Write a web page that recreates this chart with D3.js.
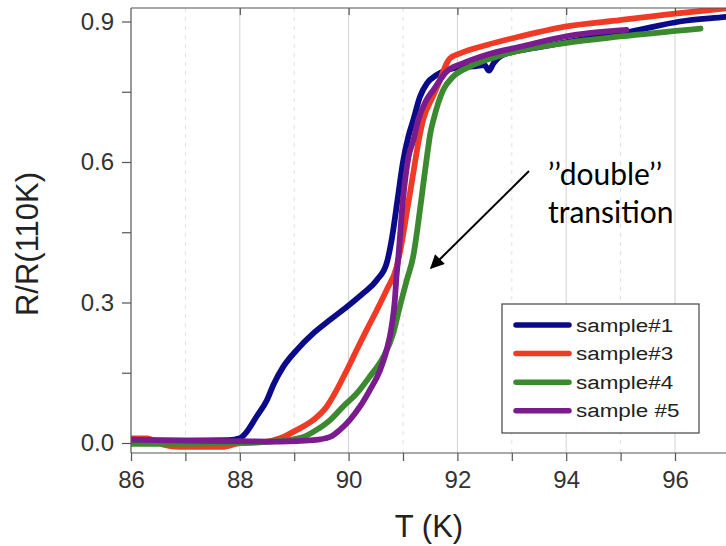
<!DOCTYPE html>
<html>
<head>
<meta charset="utf-8">
<script src="https://cdn.jsdelivr.net/npm/d3@7"></script>
<style>
html,body{margin:0;padding:0;background:#fff;}
svg{display:block;}
</style>
</head>
<body>
<svg id="chart" width="726" height="546"></svg>
<script>
// ---- data ----
const seriesNames = ["sample#1", "sample#3", "sample#4", "sample #5"];
const seriesColors = ["#0b0b8a", "#ef3b26", "#3b8a2f", "#7a1b8e"];

const s1T = [86, 87, 87.8, 88.0, 88.1, 88.3, 88.5, 88.62, 88.8, 89.05, 89.35, 89.66, 89.97, 90.27, 90.52, 90.7, 90.8, 90.9, 91.0, 91.1, 91.19, 91.31, 91.44, 91.62, 91.92, 92.29, 92.5, 92.58, 92.66, 92.84, 93.5, 94.3, 95.17, 96.09, 96.94, 97.1];
const s1V = [0.005, 0.005, 0.006, 0.01, 0.02, 0.055, 0.092, 0.125, 0.163, 0.199, 0.234, 0.263, 0.291, 0.32, 0.348, 0.384, 0.44, 0.52, 0.6, 0.655, 0.69, 0.739, 0.768, 0.786, 0.8, 0.804, 0.807, 0.795, 0.81, 0.829, 0.845, 0.862, 0.878, 0.9, 0.91, 0.912];

const s3T = [86, 86.3, 86.5, 86.9, 87.7, 88.0, 88.5, 88.74, 89.05, 89.35, 89.6, 89.78, 89.97, 90.15, 90.33, 90.52, 90.7, 90.88, 90.98, 91.08, 91.18, 91.28, 91.37, 91.55, 91.68, 91.8, 91.86, 92.05, 92.54, 93.15, 93.98, 94.99, 96.0, 96.94, 97.1];
const s3V = [0.01, 0.01, 0.0, -0.008, -0.008, 0.0, 0.003, 0.01, 0.028, 0.049, 0.078, 0.113, 0.156, 0.199, 0.241, 0.284, 0.327, 0.375, 0.43, 0.5, 0.57, 0.64, 0.69, 0.74, 0.775, 0.81, 0.821, 0.832, 0.85, 0.868, 0.889, 0.903, 0.917, 0.928, 0.93];

const s4T = [86, 88, 88.86, 89.17, 89.41, 89.66, 89.9, 90.15, 90.39, 90.64, 90.82, 90.94, 91.07, 91.19, 91.28, 91.37, 91.45, 91.5, 91.56, 91.74, 91.92, 92.23, 92.84, 93.98, 94.99, 96.47];
const s4V = [-0.002, 0.0, 0.006, 0.013, 0.028, 0.049, 0.078, 0.106, 0.142, 0.184, 0.234, 0.291, 0.348, 0.40, 0.47, 0.55, 0.62, 0.66, 0.69, 0.754, 0.782, 0.804, 0.829, 0.854, 0.868, 0.885];

const s5T = [86, 87, 88, 88.74, 89.35, 89.66, 89.84, 90.02, 90.21, 90.39, 90.58, 90.7, 90.79, 90.85, 90.88, 90.91, 91.0, 91.1, 91.2, 91.28, 91.42, 91.56, 91.8, 92.11, 92.54, 93.15, 93.98, 95.11];
const s5V = [0.007, 0.005, 0.004, 0.003, 0.006, 0.013, 0.028, 0.049, 0.078, 0.113, 0.156, 0.199, 0.248, 0.305, 0.355, 0.391, 0.52, 0.61, 0.65, 0.69, 0.73, 0.754, 0.793, 0.811, 0.829, 0.846, 0.868, 0.882];

const xMajorTicks = [86, 88, 90, 92, 94, 96];
const xMinorTicks = [87, 89, 91, 93, 95, 97];
const yMajorTicks = [0.0, 0.3, 0.6, 0.9];
const yMinorTicks = [0.15, 0.45, 0.75];
const xTitle = "T (K)";
const yTitle = "R/R(110K)";
const noteLines = ["\u2019\u2019double\u2019\u2019", "transition"];

// ---- layout ----
const svg = d3.select("#chart");
const pLeft = 131, pTop = 8, pBottom = 453, pRight = 760;
const x = d3.scaleLinear().domain([86, 96]).range([131, 675]);
const y = d3.scaleLinear().domain([0, 0.9]).range([443, 21.5]);
const axisFont = "Liberation Sans, Arial, sans-serif";

const defs = svg.append("defs");
defs.append("clipPath").attr("id", "plotclip")
  .append("rect").attr("x", pLeft).attr("y", pTop).attr("width", pRight - pLeft).attr("height", pBottom - pTop);

// gridlines
const grid = svg.append("g");
grid.selectAll("line.maj").data(xMajorTicks.filter(d => d > 86)).join("line")
  .attr("x1", d => x(d)).attr("x2", d => x(d)).attr("y1", pTop).attr("y2", pBottom)
  .attr("stroke", "#d2d2d2").attr("stroke-width", 1);
grid.selectAll("line.min").data(xMinorTicks).join("line")
  .attr("x1", d => x(d)).attr("x2", d => x(d)).attr("y1", pTop).attr("y2", pBottom)
  .attr("stroke", "#e0e0e0").attr("stroke-width", 1).attr("stroke-dasharray", "4,5");

// series
const series = [
  {T: s1T, V: s1V}, {T: s3T, V: s3V}, {T: s4T, V: s4V}, {T: s5T, V: s5V}
];
const line = d3.line().x(d => x(d[0])).y(d => y(d[1])).curve(d3.curveMonotoneX);
const plot = svg.append("g").attr("clip-path", "url(#plotclip)");
series.forEach((s, i) => {
  plot.append("path")
    .datum(s.T.map((t, j) => [t, s.V[j]]))
    .attr("d", line)
    .attr("fill", "none")
    .attr("stroke", seriesColors[i])
    .attr("stroke-width", 5.8)
    .attr("stroke-linejoin", "round")
    .attr("stroke-linecap", "round");
});

// frame
svg.append("line").attr("x1", pLeft).attr("x2", pRight).attr("y1", pTop).attr("y2", pTop).attr("stroke", "#555").attr("stroke-width", 1.2);
svg.append("line").attr("x1", pLeft).attr("x2", pLeft).attr("y1", pTop).attr("y2", pBottom).attr("stroke", "#555").attr("stroke-width", 1.2);

// axes
const xAxis = d3.axisBottom(x).tickValues(xMajorTicks.concat(xMinorTicks).sort((a,b)=>a-b))
  .tickSize(8).tickPadding(10)
  .tickFormat(d => xMajorTicks.includes(d) ? d3.format("d")(d) : "");
const gx = svg.append("g").attr("transform", `translate(0,${pBottom})`).call(xAxis);
gx.select(".domain").attr("d", `M${pLeft},0H${pRight}`);
const xTop = d3.axisBottom(x).tickValues(xMajorTicks.filter(d => d > 86)).tickSize(7).tickFormat("");
const gxt = svg.append("g").attr("transform", `translate(0,${pTop})`).call(xTop);
gxt.select(".domain").remove();

const yAxis = d3.axisLeft(y).tickValues(yMajorTicks.concat(yMinorTicks).sort((a,b)=>a-b))
  .tickSize(9).tickPadding(8)
  .tickFormat(d => yMajorTicks.includes(d) ? d3.format(".1f")(d) : "");
const gy = svg.append("g").attr("transform", `translate(${pLeft},0)`).call(yAxis);
gy.select(".domain").remove();

[gx, gy, gxt].forEach(g => {
  g.selectAll("line").attr("stroke", "#555").attr("stroke-width", 1.2);
  g.selectAll(".domain").attr("stroke", "#555").attr("stroke-width", 1.2);
  g.selectAll("text").attr("font-family", axisFont)
    .attr("font-size", 24).attr("fill", "#333");
});

// titles
svg.append("text").attr("x", 429).attr("y", 537).attr("text-anchor", "middle")
  .attr("font-family", axisFont).attr("font-size", 31).attr("fill", "#222")
  .text(xTitle);
svg.append("text").attr("transform", "translate(38,244) rotate(-90)").attr("text-anchor", "middle")
  .attr("font-family", axisFont).attr("font-size", 31).attr("fill", "#222")
  .text(yTitle);

// legend
const lg = svg.append("g");
lg.append("rect").attr("x", 502).attr("y", 304).attr("width", 197).attr("height", 129)
  .attr("fill", "#fff").attr("stroke", "#444").attr("stroke-width", 1.2);
seriesNames.forEach((n, i) => {
  const yy = 325 + i * 28.6;
  lg.append("line").attr("x1", 516).attr("x2", 569).attr("y1", yy).attr("y2", yy)
    .attr("stroke", seriesColors[i]).attr("stroke-width", 5.5).attr("stroke-linecap", "round");
  lg.append("text").attr("transform", `translate(576,${yy + 6.5}) scale(1.18,1)`)
    .attr("font-family", axisFont)
    .attr("font-size", 19).attr("fill", "#222").text(n);
});

// annotation
defs.append("marker").attr("id", "arrowhead").attr("viewBox", "0 0 10 10").attr("refX", 9).attr("refY", 5)
  .attr("markerWidth", 7.5).attr("markerHeight", 7).attr("orient", "auto")
  .append("path").attr("d", "M0,0L10,5L0,10z").attr("fill", "#000");
svg.append("line").attr("x1", 529).attr("y1", 171).attr("x2", 431).attr("y2", 268)
  .attr("stroke", "#000").attr("stroke-width", 2).attr("marker-end", "url(#arrowhead)");
noteLines.forEach((t, i) => {
  svg.append("text").attr("x", 548).attr("y", 185 + i * 38)
    .attr("font-family", "Lato, Open Sans, sans-serif").attr("font-size", 30).attr("fill", "#000").text(t);
});
</script>
</body>
</html>
